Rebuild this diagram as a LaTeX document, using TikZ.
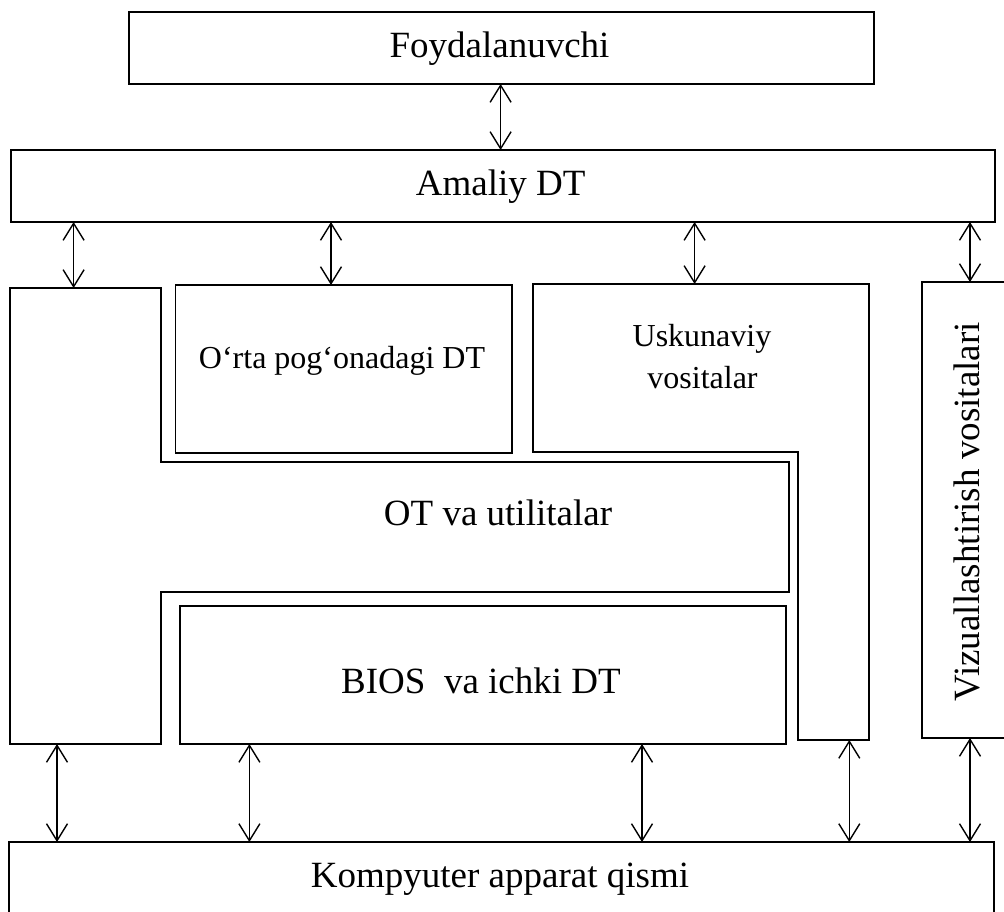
\documentclass[tikz,border=0pt]{standalone}
\usepackage{fontspec}
\setmainfont{Liberation Serif}
\usetikzlibrary{arrows.meta}
\begin{document}
\begin{tikzpicture}[x=1pt,y=-1pt,
  box/.style={draw, line width=1.8pt, rectangle, inner sep=0pt, outer sep=0pt},
  outline/.style={draw, line width=1.8pt, line join=miter},
  biarrow/.style={line width=1.4pt,
    {Straight Barb[length=17pt,width=21pt,line width=1.4pt]}-{Straight Barb[length=17pt,width=21pt,line width=1.4pt]}},
  big/.style={font=\fontsize{37}{44}\selectfont, inner sep=0pt, anchor=base},
  small/.style={font=\fontsize{32}{42}\selectfont, inner sep=0pt, anchor=base}]
\useasboundingbox (0,0) rectangle (1004,911);
\clip (0,0) rectangle (1004,911);

% layers drawn as plain boxes
\node[box, minimum width=745pt, minimum height=72pt] (foyd) at (501.5,48) {};
\node[box, minimum width=984pt, minimum height=72pt] (amaliy) at (503,186) {};
\node[box, minimum width=336.5pt, minimum height=168pt] (orta) at (343.75,369) {};
\node[box, minimum width=606.4pt, minimum height=138pt] (bios) at (482.8,675) {};
\node[box, minimum width=88pt, minimum height=456pt] (viz) at (966,510) {};
\node[box, minimum width=985pt, minimum height=88pt] (komp) at (501.5,886) {};

% operating system and utilities (stepped outline)
\draw[outline] (10,288) -- (161,288) -- (161,462) -- (789,462) -- (789,592)
  -- (161,592) -- (161,744) -- (10,744) -- cycle;
% hardware tools (L-shaped outline)
\draw[outline] (533,284) -- (869,284) -- (869,740) -- (798,740) -- (798,452)
  -- (533,452) -- cycle;

% labels
\node[big] (tfoyd) at (499.5,57) {Foydalanuvchi};
\node[big] (tamaliy) at (500.6,195) {Amaliy DT};
\node[small] (torta) at (342,368.3) {O‘rta pog‘onadagi DT};
\node[small] (tusk1) at (702,346.7) {Uskunaviy};
\node[small] (tusk2) at (702.5,388.3) {vositalar};
\node[big] (tot) at (498,525) {OT va utilitalar};
\node[big] (tbios) at (481,693.3) {BIOS\ \ va ichki DT};
\node[big] (tkomp) at (500,887) {Kompyuter apparat qismi};
\node[big, rotate=90] (tviz) at (979,511.7) {Vizuallashtirish vositalari};

% connector columns
\coordinate (c0) at (500.6,0);
\coordinate (ottop) at (73.6,288);
\coordinate (c2) at (331,0);
\coordinate (usktop) at (694.6,284);
\coordinate (c4) at (970,0);
\coordinate (otbot) at (57,744);
\coordinate (d2) at (249.4,0);
\coordinate (d3) at (642,0);
\coordinate (uskbot) at (849.3,740);
\coordinate (d5) at (970,0);

% connectors
\draw[biarrow] (foyd.south -| c0) -- (amaliy.north -| c0);
\draw[biarrow] (amaliy.south -| ottop) -- (ottop);
\draw[biarrow] (amaliy.south -| c2) -- (orta.north -| c2);
\draw[biarrow] (amaliy.south -| usktop) -- (usktop);
\draw[biarrow] (amaliy.south -| c4) -- (viz.north -| c4);
\draw[biarrow] (otbot) -- (komp.north -| otbot);
\draw[biarrow] (bios.south -| d2) -- (komp.north -| d2);
\draw[biarrow] (bios.south -| d3) -- (komp.north -| d3);
\draw[biarrow] (uskbot) -- (komp.north -| uskbot);
\draw[biarrow] (viz.south -| d5) -- (komp.north -| d5);
\end{tikzpicture}
\end{document}
